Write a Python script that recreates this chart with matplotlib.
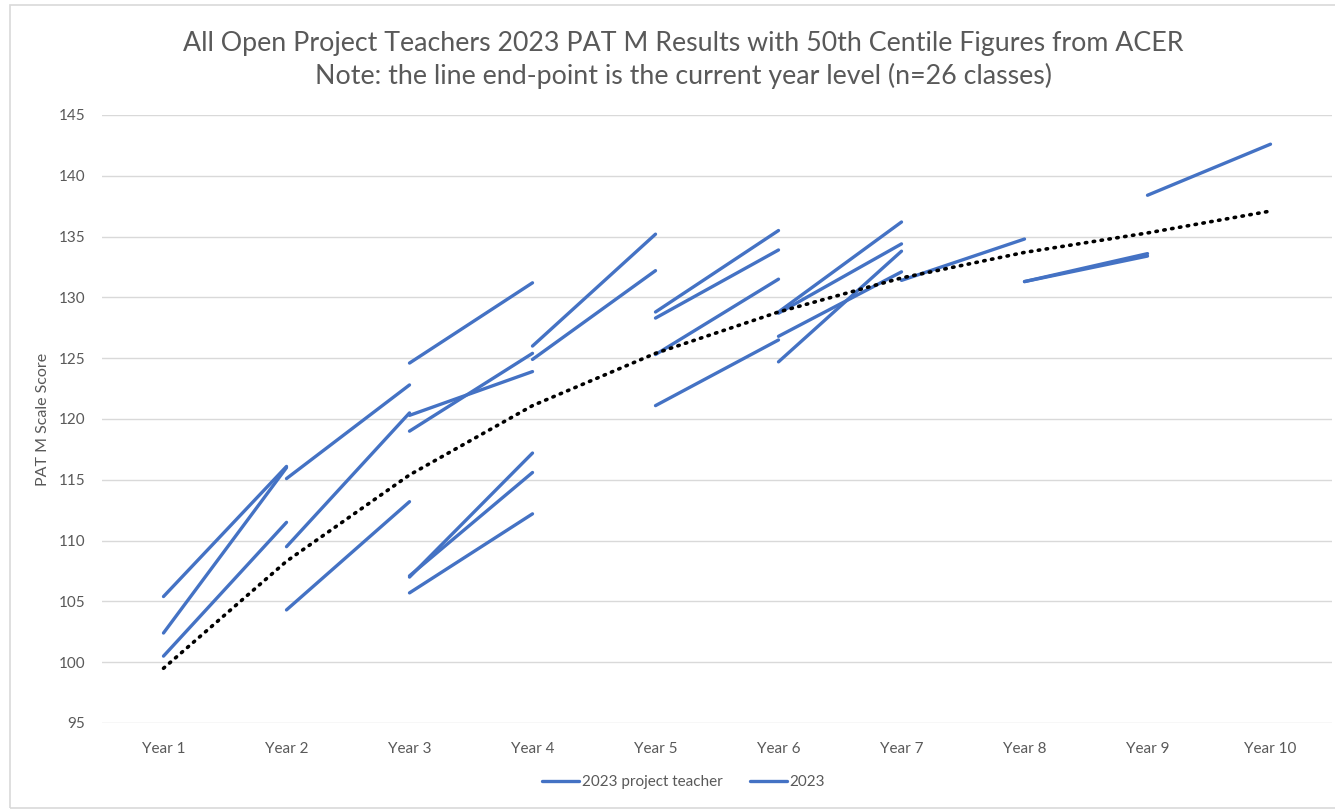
import matplotlib
matplotlib.use("Agg")
from matplotlib import pyplot as plt
from matplotlib.patches import Rectangle

years = ["Year 1", "Year 2", "Year 3", "Year 4", "Year 5",
         "Year 6", "Year 7", "Year 8", "Year 9", "Year 10"]

# ACER 50th centile
acer = [99.5, 108.3, 115.4, 121.1, 125.4, 128.8, 131.6, 133.7, 135.3, 137.1]

# one segment per class: starts at start_year, ends one year later
start_year = [1, 1, 1,
              2, 2, 2,
              3, 3, 3, 3, 3, 3,
              4, 4,
              5, 5, 5, 5,
              6, 6, 6, 6,
              7,
              8, 8,
              9]
start_score = [105.4, 102.4, 100.5,
               115.1, 109.5, 104.3,
               124.6, 119.0, 120.3, 107.0, 107.1, 105.7,
               126.0, 124.9,
               128.8, 128.3, 125.3, 121.1,
               128.8, 128.7, 124.7, 126.8,
               131.4,
               131.3, 131.3,
               138.4]
end_score = [116.1, 116.0, 111.5,
             122.8, 120.5, 113.2,
             131.2, 125.4, 123.9, 117.2, 115.6, 112.2,
             135.2, 132.2,
             135.5, 133.9, 131.5, 126.5,
             136.2, 134.4, 133.8, 132.1,
             134.8,
             133.4, 133.6,
             142.6]

blue = "#4472C4"
grey = "#595959"
plt.rcParams["font.family"] = ["Lato", "DejaVu Sans"]

fig = plt.figure(figsize=(13.35, 8.09), dpi=100)
ax = fig.add_axes([102 / 1335, 1 - 723 / 809, 1230 / 1335, 608 / 809])

for i in range(len(start_year)):
    x0 = start_year[i]
    lab = None
    if i == 0:
        lab = "2023 project teacher"
    elif i == 1:
        lab = "2023"
    ax.plot([x0, x0 + 1], [start_score[i], end_score[i]], color=blue,
            lw=2.4, solid_capstyle="round", label=lab)

xs = list(range(1, len(years) + 1))
ax.plot(xs, acer, color="black", lw=2.6, linestyle=(0, (0.4, 1.8)),
        dash_capstyle="round")

ax.set_xlim(0.5, 10.5)
ax.set_ylim(95, 145)
ax.set_yticks(range(95, 146, 5))
ax.set_xticks(xs)
ax.set_xticklabels(years)
ax.grid(axis="y", color="#D9D9D9", lw=1)
ax.set_axisbelow(True)
for s in ax.spines.values():
    s.set_visible(False)
ax.tick_params(length=0, colors=grey, labelsize=11)
ax.tick_params(axis="x", pad=14)
ax.tick_params(axis="y", pad=12)
ax.set_ylabel("PAT M Scale Score", color=grey, fontsize=11.5, labelpad=6)

fig.text(0.512, 1 - 43 / 809,
         "All Open Project Teachers 2023 PAT M Results with 50th Centile Figures from ACER",
         ha="center", va="center", fontsize=19.3, color=grey)
fig.text(0.512, 1 - 76 / 809,
         "Note: the line end-point is the current year level (n=26 classes)",
         ha="center", va="center", fontsize=19.3, color=grey)

fig.legend(loc="center", bbox_to_anchor=(0.512, 1 - 782 / 809), ncol=2,
           frameon=False, fontsize=11, labelcolor=grey, handlelength=2.4,
           handletextpad=0.2, columnspacing=1.8)

fig.patches.append(Rectangle((10 / 1335, 1 / 809), 1.0, 1 - 6 / 809,
                             transform=fig.transFigure, fill=False,
                             edgecolor="#D9D9D9", lw=1.2))

fig.savefig("out.png", dpi=100)
